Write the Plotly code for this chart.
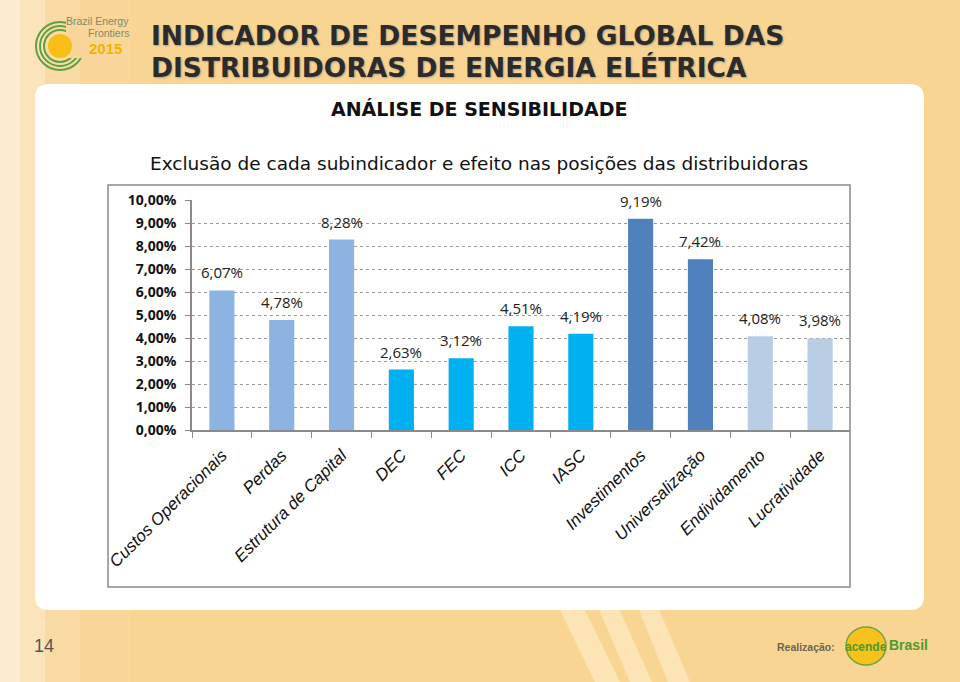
import plotly.graph_objects as go

categories = ["Custos Operacionais", "Perdas", "Estrutura de Capital", "DEC", "FEC",
              "ICC", "IASC", "Investimentos", "Universalização", "Endividamento", "Lucratividade"]
values = [6.07, 4.78, 8.28, 2.63, 3.12, 4.51, 4.19, 9.19, 7.42, 4.08, 3.98]
bar_colors = ["#8DB3E2", "#8DB3E2", "#8DB3E2", "#00B0F0", "#00B0F0", "#00B0F0", "#00B0F0",
              "#4F81BD", "#4F81BD", "#B9CDE5", "#B9CDE5"]
y_ticks = [0, 1, 2, 3, 4, 5, 6, 7, 8, 9, 10]
y_tick_text = [f"{v:.2f}%".replace(".", ",") for v in y_ticks]
value_labels = [f"{v:.2f}%".replace(".", ",") for v in values]

W, H = 960, 682
def px(x):
    return x / W
def py(y):
    return 1 - y / H

fig = go.Figure()
fig.add_trace(go.Bar(
    x=categories, y=values, marker=dict(color=bar_colors, line=dict(width=0)),
    width=0.42, hoverinfo="skip"))

shapes = []
grad = [(0, 20, "#FCEBD0"), (20, 45, "#FBE3BA"), (45, 80, "#FADBA6"), (80, 130, "#FAD69A"), (130, 960, "#F9D593")]
for x0, x1, c in grad:
    shapes.append(dict(type="rect", xref="paper", yref="paper", x0=px(x0), x1=px(x1), y0=0, y1=1,
                       fillcolor=c, line=dict(width=0), layer="below"))
for xs in [(555, 580, 595, 620), (595, 615, 630, 652), (635, 655, 668, 690)]:
    a, b, c2, d = xs
    shapes.append(dict(type="path", xref="paper", yref="paper",
                       path=f"M{px(a)},{py(600)} L{px(b)},{py(600)} L{px(d)},{py(682)} L{px(c2)},{py(682)} Z",
                       fillcolor="rgba(255,240,210,0.55)", line=dict(width=0), layer="below"))
x0, x1, y0, y1, r = 35, 924, 84, 610, 14
path = (f"M{px(x0+r)},{py(y0)} L{px(x1-r)},{py(y0)} Q{px(x1)},{py(y0)} {px(x1)},{py(y0+r)} "
        f"L{px(x1)},{py(y1-r)} Q{px(x1)},{py(y1)} {px(x1-r)},{py(y1)} "
        f"L{px(x0+r)},{py(y1)} Q{px(x0)},{py(y1)} {px(x0)},{py(y1-r)} "
        f"L{px(x0)},{py(y0+r)} Q{px(x0)},{py(y0)} {px(x0+r)},{py(y0)} Z")
shapes.append(dict(type="path", xref="paper", yref="paper", path=path,
                   fillcolor="#FFFFFF", line=dict(width=0), layer="below"))
shapes.append(dict(type="rect", xref="paper", yref="paper", x0=px(108), x1=px(850), y0=py(587), y1=py(185),
                   fillcolor="rgba(0,0,0,0)", line=dict(color="#8A8A8A", width=1.5), layer="above"))
# top-left logo
cx, cy = 60, 46
for rr in [24, 20, 16]:
    shapes.append(dict(type="circle", xref="paper", yref="paper",
                       x0=px(cx-rr), x1=px(cx+rr), y0=py(cy+rr), y1=py(cy-rr),
                       line=dict(color="#5FA040", width=2), fillcolor="rgba(0,0,0,0)"))
shapes.append(dict(type="rect", xref="paper", yref="paper", x0=px(66), x1=px(90), y0=py(58), y1=py(16),
                   fillcolor="#FAD69A", line=dict(width=0)))
shapes.append(dict(type="circle", xref="paper", yref="paper",
                   x0=px(cx-12), x1=px(cx+12), y0=py(cy+12), y1=py(cy-12),
                   line=dict(width=0), fillcolor="#F7BE16"))
# bottom-right logo
shapes.append(dict(type="circle", xref="paper", yref="paper",
                   x0=px(846), x1=px(886), y0=py(665), y1=py(627),
                   line=dict(color="#6DA544", width=1.5), fillcolor="#F7C21B"))

def ann(text, x, y, xanchor, size, color, family="DejaVu Sans", shadow=None):
    f = dict(family=family, size=size, color=color)
    if shadow:
        f["shadow"] = shadow
    return dict(text=text, x=px(x), y=py(y), xref="paper", yref="paper", xanchor=xanchor,
                yanchor="middle", showarrow=False, font=f)

narrow = "Liberation Sans Narrow, Liberation Sans"
annotations = [
    ann("<b>INDICADOR DE DESEMPENHO GLOBAL DAS</b>", 149, 36, "left", 26.5, "#2B2B2B", shadow="1px 1px 2px #B0A080"),
    ann("<b>DISTRIBUIDORAS DE ENERGIA ELÉTRICA</b>", 149, 67, "left", 26.5, "#2B2B2B", shadow="1px 1px 2px #B0A080"),
    ann("<b>ANÁLISE DE SENSIBILIDADE</b>", 479, 109, "center", 19, "#111111"),
    ann("Exclusão de cada subindicador e efeito nas posições das distribuidoras", 479, 163, "center", 18.5, "#111111"),
    ann("14", 44, 646, "center", 18, "#555555", family="Liberation Sans"),
    ann("Brazil Energy", 131, 21, "right", 10.5, "#7C8C6A", family=narrow),
    ann("Frontiers", 131, 33, "right", 10.5, "#7C8C6A", family=narrow),
    ann("<b>2015</b>", 87, 48, "left", 15, "#F0B400", family=narrow),
    ann("<b>Realização:</b>", 837, 647, "right", 10.5, "#6E6450", family=narrow),
    ann("<b>acende</b>", 866, 647, "center", 12, "#4E9A2A", family=narrow),
    ann("<b>Brasil</b>", 887, 645, "left", 14, "#4E9A2A", family=narrow),
]
for cat, v, lab in zip(categories, values, value_labels):
    annotations.append(dict(text=lab, x=cat, y=v, xref="x", yref="y", xanchor="center", yanchor="bottom",
                            yshift=6, showarrow=False,
                            font=dict(family="Open Sans", size=15, color="#222222")))

fig.update_layout(
    width=W, height=H, margin=dict(l=0, r=0, t=0, b=0),
    paper_bgcolor="#F9D593", plot_bgcolor="rgba(0,0,0,0)",
    showlegend=False,
    shapes=shapes, annotations=annotations,
    xaxis=dict(domain=[px(192), px(850)], range=[-0.5, 10.5], showgrid=False, tickson="boundaries",
               ticks="outside", ticklen=6, tickcolor="#8A8A8A", showline=True, linecolor="#8A8A8A",
               linewidth=1.5, tickangle=-45, ticklabelstandoff=7,
               tickfont=dict(family="Liberation Sans", size=17, color="#111111", style="italic"),
               automargin=False, fixedrange=True),
    yaxis=dict(domain=[py(430), py(200)], range=[0, 10], tickvals=y_ticks, ticktext=y_tick_text,
               showgrid=True, gridcolor="#9A9A9A", griddash="dot", gridwidth=1,
               showline=True, linecolor="#8A8A8A", linewidth=1.5, ticks="outside", ticklen=5,
               tickcolor="#8A8A8A", zeroline=False, ticklabelstandoff=6,
               tickfont=dict(family="Open Sans", size=14, color="#111111", weight="bold"),
               automargin=False, fixedrange=True),
)

fig.write_html("out.html", config={"displayModeBar": False},
               post_script="document.body.style.margin='0';document.body.style.overflow='hidden';")
